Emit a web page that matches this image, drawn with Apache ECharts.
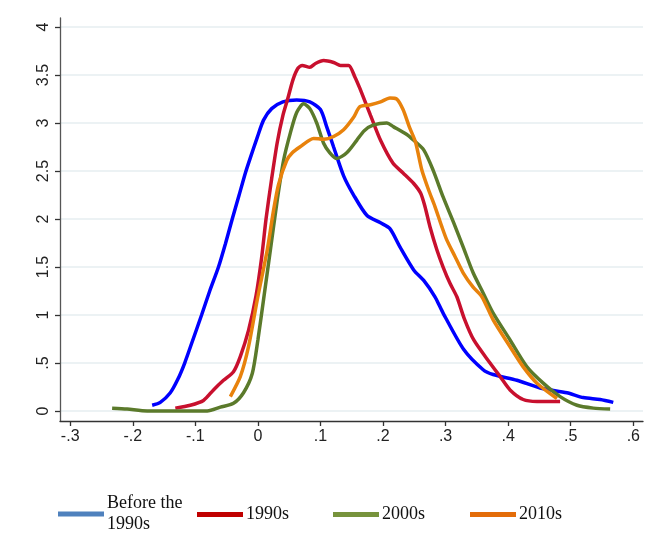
<!DOCTYPE html>
<html><head><meta charset="utf-8">
<script src="https://cdn.jsdelivr.net/npm/echarts@6/dist/echarts.min.js"></script>
<style>html,body{margin:0;padding:0;background:#fff}#c{width:667px;height:536px}</style>
</head><body><div id="c"></div>
<script>
const seriesNames = ['Before the\n1990s', '1990s', '2000s', '2010s'];
const xTicks = [-0.3, -0.2, -0.1, 0, 0.1, 0.2, 0.3, 0.4, 0.5, 0.6];
const yTicks = [0, 0.5, 1, 1.5, 2, 2.5, 3, 3.5, 4];

const before1990 = [
  [-0.169,0.06],[-0.156,0.09],[-0.140,0.19],[-0.128,0.33],[-0.117,0.50],[-0.104,0.74],[-0.090,1.00],
  [-0.077,1.25],[-0.063,1.50],[-0.052,1.74],[-0.041,2.00],[-0.030,2.25],[-0.020,2.48],[-0.012,2.64],
  [-0.001,2.85],[0.009,3.03],[0.022,3.15],[0.040,3.22],[0.062,3.24],[0.083,3.22],[0.100,3.14],
  [0.110,2.96],[0.121,2.75],[0.137,2.45],[0.153,2.25],[0.174,2.04],[0.196,1.96],[0.211,1.90],
  [0.227,1.71],[0.249,1.47],[0.265,1.36],[0.283,1.19],[0.296,1.02],[0.329,0.64],[0.360,0.43],
  [0.376,0.38],[0.414,0.32],[0.451,0.24],[0.494,0.19],[0.520,0.14],[0.547,0.12],[0.568,0.09]
];
const s1990 = [
  [-0.132,0.03],[-0.108,0.06],[-0.087,0.11],[-0.071,0.22],[-0.055,0.32],[-0.039,0.41],[-0.028,0.57],
  [-0.015,0.84],[-0.003,1.20],[0.006,1.60],[0.013,2.00],[0.022,2.42],[0.031,2.80],[0.040,3.08],
  [0.048,3.26],[0.056,3.45],[0.064,3.57],[0.071,3.60],[0.083,3.58],[0.092,3.62],[0.105,3.65],
  [0.121,3.63],[0.132,3.60],[0.145,3.60],[0.155,3.48],[0.163,3.36],[0.180,3.08],[0.196,2.82],
  [0.216,2.58],[0.232,2.48],[0.249,2.37],[0.260,2.27],[0.267,2.13],[0.275,1.92],[0.286,1.68],
  [0.296,1.50],[0.307,1.33],[0.318,1.19],[0.330,0.96],[0.345,0.74],[0.371,0.50],[0.387,0.36],
  [0.403,0.22],[0.424,0.12],[0.446,0.10],[0.483,0.10]
];
const s2000 = [
  [-0.233,0.03],[-0.209,0.02],[-0.177,0.00],[-0.081,0.00],[-0.060,0.04],[-0.039,0.08],[-0.023,0.19],
  [-0.009,0.39],[0.000,0.74],[0.009,1.16],[0.020,1.68],[0.031,2.20],[0.041,2.61],[0.052,2.90],
  [0.062,3.11],[0.073,3.20],[0.083,3.15],[0.094,3.00],[0.105,2.79],[0.115,2.69],[0.126,2.63],
  [0.142,2.69],[0.158,2.82],[0.170,2.92],[0.185,2.98],[0.206,3.00],[0.217,2.96],[0.238,2.88],
  [0.249,2.82],[0.265,2.72],[0.280,2.51],[0.296,2.23],[0.313,1.96],[0.328,1.71],[0.344,1.44],
  [0.360,1.23],[0.376,1.02],[0.403,0.74],[0.430,0.46],[0.456,0.29],[0.483,0.15],[0.510,0.06],
  [0.536,0.03],[0.563,0.02]
];
const s2010 = [
  [-0.044,0.15],[-0.028,0.36],[-0.015,0.67],[-0.001,1.16],[0.015,1.68],[0.025,2.09],[0.033,2.36],
  [0.046,2.61],[0.055,2.69],[0.067,2.75],[0.089,2.84],[0.105,2.83],[0.121,2.86],[0.137,2.93],
  [0.153,3.06],[0.163,3.17],[0.180,3.19],[0.196,3.22],[0.211,3.26],[0.222,3.25],[0.232,3.14],
  [0.242,2.96],[0.252,2.80],[0.262,2.51],[0.273,2.30],[0.283,2.13],[0.294,1.92],[0.302,1.78],
  [0.315,1.61],[0.328,1.44],[0.344,1.29],[0.358,1.19],[0.376,0.95],[0.403,0.67],[0.424,0.46],
  [0.446,0.29],[0.478,0.13]
];

const lineColors = ['#0000ff', '#c8102e', '#5b7a2b', '#e8820c'];
const swatchColors = ['#4f81bd', '#c00000', '#77933c', '#e36c09'];
const dataSets = [before1990, s1990, s2000, s2010];

function fmt(v) {
  let s = String(Math.round(v * 10) / 10);
  return s.replace(/^0\./, '.').replace(/^-0\./, '-.');
}

const legendLefts = [58, 197, 333, 470];
const legendTops = [493, 504, 504, 504];
const legends = seriesNames.map((n, i) => ({
  left: legendLefts[i], top: legendTops[i], orient: 'horizontal', padding: 0,
  icon: 'rect', itemWidth: 46, itemHeight: 5,
  data: [{ name: n, itemStyle: { color: swatchColors[i], borderWidth: 0 }, lineStyle: { width: 0 } }],
  textStyle: { fontFamily: 'Liberation Serif', fontSize: 18, color: '#111', lineHeight: 21, padding: [0, 0, 0, -2] },
  selectedMode: false
}));

const chart = echarts.init(document.getElementById('c'), null, { renderer: 'canvas' });
chart.setOption({
  animation: false,
  backgroundColor: '#fff',
  grid: { left: 60, right: 24, top: 18, bottom: 115, containLabel: false },
  legend: legends,
  xAxis: {
    type: 'value', min: -0.3163, max: 0.6155,
    axisLine: { show: true, onZero: false, lineStyle: { color: '#333', width: 1.3 } },
    axisTick: { show: true, length: 5, customValues: xTicks, lineStyle: { color: '#333', width: 1.3 } },
    axisLabel: { customValues: xTicks, formatter: fmt, fontFamily: 'Liberation Sans', fontSize: 16, color: '#222', margin: 8 },
    splitLine: { show: false }
  },
  yAxis: {
    type: 'value', min: -0.104, max: 4.094,
    axisLine: { show: true, onZero: false, lineStyle: { color: '#555', width: 1.3 } },
    axisTick: { show: true, length: 5, customValues: yTicks, lineStyle: { color: '#333', width: 1.3 } },
    axisLabel: { customValues: yTicks, formatter: fmt, rotate: 90, fontFamily: 'Liberation Sans', fontSize: 16, color: '#222', margin: 8 },
    splitLine: { show: true, lineStyle: { color: '#e6eef0', width: 1.5 } }
  },
  series: dataSets.map((d, i) => ({
    name: seriesNames[i], type: 'line', data: d, showSymbol: false, symbol: 'none',
    smooth: 0.25, lineStyle: { color: lineColors[i], width: 3.5 },
    itemStyle: { color: lineColors[i] }, z: 2 + i
  }))
});
</script></body></html>
